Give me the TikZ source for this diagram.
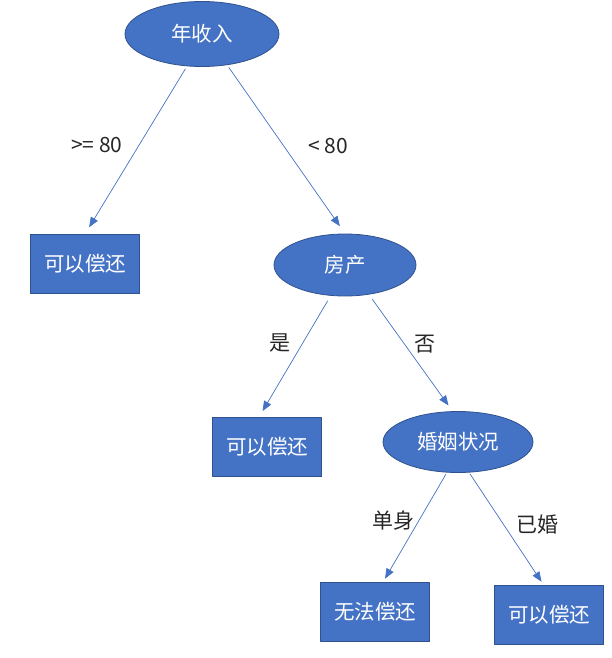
\documentclass[tikz,border=0pt]{standalone}
\usepackage{fontspec}
\setmainfont{Noto Sans CJK SC}
\usetikzlibrary{shapes.geometric,arrows.meta}
\definecolor{nodeblue}{HTML}{4472C4}
\definecolor{edgeblue}{HTML}{2F528F}
\tikzset{
  test/.style={ellipse,fill=nodeblue,draw=edgeblue,line width=0.8pt,text=white,
    inner sep=0pt,font=\fontsize{20.5}{24}\selectfont},
  leaf/.style={rectangle,fill=nodeblue,draw=edgeblue,line width=0.8pt,text=white,
    minimum width=109pt,minimum height=59pt,inner sep=0pt,font=\fontsize{20.5}{24}\selectfont},
  branch/.style={draw=nodeblue,line width=0.7pt,-{Triangle[length=10pt,width=8pt]}},
  cond/.style={font=\fontsize{21}{24}\selectfont,text=black!85}
}
\begin{document}
\begin{tikzpicture}[x=1pt,y=-1pt,line cap=round,line join=round]
  \useasboundingbox (0,0) rectangle (612,658);
  \node[test,minimum width=154pt,minimum height=65pt] (income) at (202,34) {年收入};
  \node[leaf] (repayA) at (85,264) {可以偿还};
  \node[test,minimum width=142pt,minimum height=62pt] (house) at (345,265) {房产};
  \node[leaf] (repayB) at (267,447) {可以偿还};
  \node[test,minimum width=150pt,minimum height=61pt] (marry) at (458,442) {婚姻状况};
  \node[leaf] (norepay) at (375,612) {无法偿还};
  \node[leaf] (repayC) at (549,615) {可以偿还};
  \draw[branch,shorten <=3pt,shorten >=8pt] (income.245) -- (repayA.north);
  \draw[branch,shorten <=3pt,shorten >=9pt] (income.309) -- (house.north);
  \draw[branch,shorten <=6pt,shorten >=7pt] (house.245) -- (repayB.105);
  \draw[branch,shorten <=6pt,shorten >=7pt] (house.309) -- (marry.100);
  \draw[branch,shorten <=2pt,shorten >=4pt] (marry.250) -- (norepay.75);
  \draw[branch,shorten <=2pt,shorten >=4pt] (marry.290) -- (repayC.100);
  \node[cond] (ge80) at (97,145) {>= 80};
  \node[cond] (lt80) at (328,146) {< 80};
  \node[cond] (yes) at (280,343) {是};
  \node[cond] (no) at (425,344) {否};
  \node[cond] (single) at (393,521) {单身};
  \node[cond] (wed) at (537,525) {已婚};
\end{tikzpicture}
\end{document}
